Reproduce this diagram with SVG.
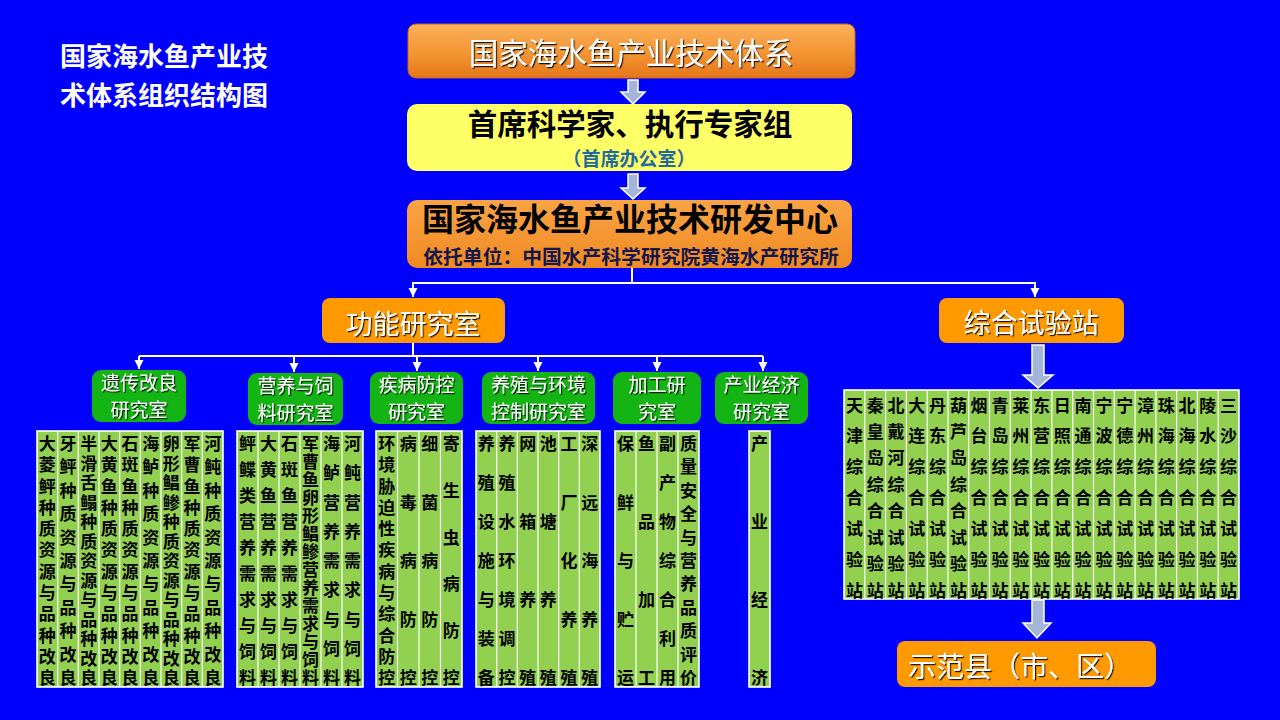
<svg xmlns="http://www.w3.org/2000/svg" width="1280" height="720" viewBox="0 0 1280 720">
<defs>
<style>
.cjk{font-family:"Noto Sans CJK SC","Noto Sans CJK TC",sans-serif}
.tt{font-family:"Noto Sans CJK SC",sans-serif;font-weight:bold;fill:#fff;font-size:26px}
.wt{font-family:"Noto Sans CJK SC",sans-serif;fill:#fff;text-anchor:middle}
.gl{font-family:"Noto Sans CJK SC",sans-serif;fill:#fff;text-anchor:middle;font-size:19px}
.gb{fill:#14B414}
.ob{fill:#FF9900}
.tbl{fill:#92D050;stroke:#fff;stroke-width:1.6}
.sep{stroke:#fff;stroke-width:1.2}
.col{font-family:"Noto Sans CJK SC",sans-serif;font-weight:bold;font-size:17px;fill:#000;text-anchor:middle}
.conn{fill:none;stroke:#fff;stroke-width:2}
.blk{fill:#A3B6DA;stroke:#fff;stroke-width:1.5}
</style>
<linearGradient id="og1" x1="0" y1="0" x2="0" y2="1">
<stop offset="0" stop-color="#FBB25C"/><stop offset="0.55" stop-color="#F39433"/><stop offset="1" stop-color="#E4761A"/>
</linearGradient>
<linearGradient id="og2" x1="0" y1="0" x2="0" y2="1">
<stop offset="0" stop-color="#F9A445"/><stop offset="1" stop-color="#F08A22"/>
</linearGradient>
<filter id="sh" x="-10%" y="-10%" width="120%" height="130%">
<feDropShadow dx="1.2" dy="1.2" stdDeviation="0.4" flood-color="#000" flood-opacity="0.85"/>
</filter>
<marker id="ah" markerUnits="userSpaceOnUse" markerWidth="10" markerHeight="10" refX="9" refY="4.5" orient="auto">
<path d="M0,0 L9,4.5 L0,9 z" fill="#fff"/>
</marker>
</defs>
<rect x="0" y="0" width="1280" height="720" fill="#0000FF"/>

<g id="title">
<text class="tt" x="60" y="66">国家海水鱼产业技</text>
<text class="tt" x="60" y="105">术体系组织结构图</text>
</g>

<g id="connectors">
<polygon class="blk" points="628,80 638,80 638,92 645,92 633,104 621,92 628,92"/>
<polygon class="blk" points="628,174 638,174 638,188 645,188 633,199 621,188 628,188"/>
<path class="conn" d="M632,268 V283 H413 V297" marker-end="url(#ah)"/>
<path class="conn" d="M632,283 H1035 V297" marker-end="url(#ah)"/>
<path class="conn" d="M413,343 V356 M139,356 H763"/>
<path class="conn" d="M139,356 V369" marker-end="url(#ah)"/>
<path class="conn" d="M294,356 V372" marker-end="url(#ah)"/>
<path class="conn" d="M417,356 V371" marker-end="url(#ah)"/>
<path class="conn" d="M538,356 V371" marker-end="url(#ah)"/>
<path class="conn" d="M657,356 V371" marker-end="url(#ah)"/>
<path class="conn" d="M763,356 V371" marker-end="url(#ah)"/>
<polygon class="blk" points="1032,345 1044,345 1044,375 1053,375 1038,388 1023,375 1032,375"/>
<polygon class="blk" points="1032,600 1044,600 1044,623 1051,623 1037,638 1023,623 1032,623"/>
</g>

<g id="system">
<rect x="408" y="24" width="447" height="54" rx="8" fill="url(#og1)" stroke="#C9651A" stroke-width="1"/>
<text class="wt" x="631" y="64" font-size="29.5" filter="url(#sh)">国家海水鱼产业技术体系</text>
</g>

<g id="chief">
<rect x="407" y="104" width="445" height="67" rx="10" fill="#FFFF66"/>
<text class="cjk" x="630" y="135" font-size="29.5" font-weight="bold" text-anchor="middle" fill="#000">首席科学家、执行专家组</text>
<text class="cjk" x="629" y="166" font-size="19" font-weight="bold" text-anchor="middle" fill="#1F6A9E">（首席办公室）</text>
</g>

<g id="center">
<rect x="407" y="200" width="445" height="68" rx="10" fill="url(#og2)"/>
<text class="cjk" x="630" y="231" font-size="32" font-weight="bold" text-anchor="middle" fill="#000">国家海水鱼产业技术研发中心</text>
<text class="cjk" x="631" y="263.5" font-size="19.8" font-weight="bold" text-anchor="middle" fill="#16164A">依托单位：中国水产科学研究院黄海水产研究所</text>
</g>

<g id="func-labs">
<rect class="ob" x="322" y="298" width="183" height="45" rx="8"/>
<text class="wt" x="413" y="334" font-size="27" filter="url(#sh)">功能研究室</text>
</g>

<g id="stations">
<rect class="ob" x="939" y="298" width="185" height="45" rx="8"/>
<text class="wt" x="1031" y="333" font-size="27" filter="url(#sh)">综合试验站</text>
</g>

<g id="demo-counties">
<rect class="ob" x="897" y="641" width="259" height="46" rx="8"/>
<text class="cjk" x="908" y="677" font-size="28" fill="#fff" filter="url(#sh)">示范县（市、区）</text>
</g>

<g id="lab-genetics">
<rect class="gb" x="92" y="370" width="94" height="52" rx="9"/>
<text class="gl" x="139" y="389.5" filter="url(#sh)">遗传改良</text>
<text class="gl" x="139" y="417" filter="url(#sh)">研究室</text>
</g>
<g id="lab-nutrition">
<rect class="gb" x="248" y="373" width="95" height="52" rx="9"/>
<text class="gl" x="295.5" y="392.5" filter="url(#sh)">营养与饲</text>
<text class="gl" x="295.5" y="420" filter="url(#sh)">料研究室</text>
</g>
<g id="lab-disease">
<rect class="gb" x="370" y="372" width="93" height="52" rx="9"/>
<text class="gl" x="416.5" y="391.5" filter="url(#sh)">疾病防控</text>
<text class="gl" x="416.5" y="419" filter="url(#sh)">研究室</text>
</g>
<g id="lab-culture">
<rect class="gb" x="482" y="372" width="113" height="52" rx="9"/>
<text class="gl" x="538.5" y="391.5" filter="url(#sh)">养殖与环境</text>
<text class="gl" x="538.5" y="419" filter="url(#sh)">控制研究室</text>
</g>
<g id="lab-processing">
<rect class="gb" x="613" y="372" width="88" height="52" rx="9"/>
<text class="gl" x="657" y="391.5" filter="url(#sh)">加工研</text>
<text class="gl" x="657" y="419" filter="url(#sh)">究室</text>
</g>
<g id="lab-economy">
<rect class="gb" x="715" y="372" width="93" height="52" rx="9"/>
<text class="gl" x="761.5" y="391.5" filter="url(#sh)">产业经济</text>
<text class="gl" x="761.5" y="419" filter="url(#sh)">研究室</text>
</g>

<g id="table-genetics">
<rect class="tbl" x="37" y="431" width="186" height="256"/>
<path class="sep" d="M57.7,431V687M78.3,431V687M99,431V687M119.7,431V687M140.3,431V687M161,431V687M181.7,431V687M202.3,431V687"/>
<text class="col" x="47.3 47.3 47.3 47.3 47.3 47.3 47.3 47.3 47.3 47.3 47.3 47.3 47.3 47.3" y="450 471.3 492.5 513.8 535.1 556.4 577.6 598.9 620.2 641.5 662.7 684">大菱鲆种质资源与品种改良</text>
<text class="col" x="68 68 68 68 68 68 68 68 68 68 68 68 68 68" y="450 473.4 496.8 520.2 543.6 567 590.4 613.8 637.2 660.6 684">牙鲆种质资源与品种改良</text>
<text class="col" x="88.7 88.7 88.7 88.7 88.7 88.7 88.7 88.7 88.7 88.7 88.7 88.7 88.7 88.7" y="450 469.5 489 508.5 528 547.5 567 586.5 606 625.5 645 664.5 684">半滑舌鳎种质资源与品种改良</text>
<text class="col" x="109.3 109.3 109.3 109.3 109.3 109.3 109.3 109.3 109.3 109.3 109.3 109.3 109.3 109.3" y="450 471.3 492.5 513.8 535.1 556.4 577.6 598.9 620.2 641.5 662.7 684">大黄鱼种质资源与品种改良</text>
<text class="col" x="130 130 130 130 130 130 130 130 130 130 130 130 130 130" y="450 471.3 492.5 513.8 535.1 556.4 577.6 598.9 620.2 641.5 662.7 684">石斑鱼种质资源与品种改良</text>
<text class="col" x="150.7 150.7 150.7 150.7 150.7 150.7 150.7 150.7 150.7 150.7 150.7 150.7 150.7 150.7" y="450 473.4 496.8 520.2 543.6 567 590.4 613.8 637.2 660.6 684">海鲈种质资源与品种改良</text>
<text class="col" x="171.3 171.3 171.3 171.3 171.3 171.3 171.3 171.3 171.3 171.3 171.3 171.3 171.3 171.3" y="450 469.5 489 508.5 528 547.5 567 586.5 606 625.5 645 664.5 684">卵形鲳鲹种质资源与品种改良</text>
<text class="col" x="192 192 192 192 192 192 192 192 192 192 192 192 192 192" y="450 471.3 492.5 513.8 535.1 556.4 577.6 598.9 620.2 641.5 662.7 684">军曹鱼种质资源与品种改良</text>
<text class="col" x="212.7 212.7 212.7 212.7 212.7 212.7 212.7 212.7 212.7 212.7 212.7 212.7 212.7 212.7" y="450 473.4 496.8 520.2 543.6 567 590.4 613.8 637.2 660.6 684">河鲀种质资源与品种改良</text>
</g>

<g id="table-nutrition">
<rect class="tbl" x="237" y="431" width="126" height="256"/>
<path class="sep" d="M258,431V687M279,431V687M300,431V687M321,431V687M342,431V687"/>
<text class="col" x="247.5 247.5 247.5 247.5 247.5 247.5 247.5 247.5 247.5 247.5 247.5 247.5 247.5 247.5" y="450 476 502 528 554 580 606 632 658 684">鲆鲽类营养需求与饲料</text>
<text class="col" x="268.5 268.5 268.5 268.5 268.5 268.5 268.5 268.5 268.5 268.5 268.5 268.5 268.5 268.5" y="450 476 502 528 554 580 606 632 658 684">大黄鱼营养需求与饲料</text>
<text class="col" x="289.5 289.5 289.5 289.5 289.5 289.5 289.5 289.5 289.5 289.5 289.5 289.5 289.5 289.5" y="450 476 502 528 554 580 606 632 658 684">石斑鱼营养需求与饲料</text>
<text class="col" x="310.5 310.5 310.5 310.5 310.5 310.5 310.5 310.5 310.5 310.5 310.5 310.5 310.5 310.5" y="450 468 486 504 522 540 558 576 594 612 630 648 666 684">军曹鱼卵形鲳鲹营养需求与饲料</text>
<text class="col" x="331.5 331.5 331.5 331.5 331.5 331.5 331.5 331.5 331.5 331.5 331.5 331.5 331.5 331.5" y="450 479.3 508.5 537.8 567 596.3 625.5 654.8 684">海鲈营养需求与饲料</text>
<text class="col" x="352.5 352.5 352.5 352.5 352.5 352.5 352.5 352.5 352.5 352.5 352.5 352.5 352.5 352.5" y="450 479.3 508.5 537.8 567 596.3 625.5 654.8 684">河鲀营养需求与饲料</text>
</g>

<g id="table-disease">
<rect class="tbl" x="376" y="431" width="86" height="256"/>
<path class="sep" d="M397.5,431V687M419,431V687M440.5,431V687"/>
<text class="col" x="386.8 386.8 386.8 386.8 386.8 386.8 386.8 386.8 386.8 386.8 386.8 386.8 386.8 386.8" y="450 471.3 492.5 513.8 535.1 556.4 577.6 598.9 620.2 641.5 662.7 684">环境胁迫性疾病与综合防控</text>
<text class="col" x="408.3 408.3 408.3 408.3 408.3 408.3 408.3 408.3 408.3 408.3 408.3 408.3 408.3 408.3" y="450 508.5 567 625.5 684">病毒病防控</text>
<text class="col" x="429.8 429.8 429.8 429.8 429.8 429.8 429.8 429.8 429.8 429.8 429.8 429.8 429.8 429.8" y="450 508.5 567 625.5 684">细菌病防控</text>
<text class="col" x="451.3 451.3 451.3 451.3 451.3 451.3 451.3 451.3 451.3 451.3 451.3 451.3 451.3 451.3" y="450 496.8 543.6 590.4 637.2 684">寄生虫病防控</text>
</g>

<g id="table-culture">
<rect class="tbl" x="476" y="431" width="124" height="256"/>
<path class="sep" d="M496.7,431V687M517.3,431V687M538,431V687M558.7,431V687M579.3,431V687"/>
<text class="col" x="486.3 486.3 486.3 486.3 486.3 486.3 486.3 486.3" y="450 489 528 567 606 645 684">养殖设施与装备</text>
<text class="col" x="507 507 507 507 507 507 507 507" y="450 489 528 567 606 645 684">养殖水环境调控</text>
<text class="col" x="527.7 527.7 527.7 527.7 527.7 527.7" y="450 528 606 684">网箱养殖</text>
<text class="col" x="548.3 548.3 548.3 548.3 548.3 548.3" y="450 528 606 684">池塘养殖</text>
<text class="col" x="569 569 569 569 569 569" y="450 508.5 567 625.5 684">工厂化养殖</text>
<text class="col" x="589.7 589.7 589.7 589.7 589.7 589.7" y="450 508.5 567 625.5 684">深远海养殖</text>
</g>

<g id="table-processing">
<rect class="tbl" x="615" y="431" width="84" height="256"/>
<path class="sep" d="M636,431V687M657,431V687M678,431V687"/>
<text class="col" x="625.5 625.5 625.5 625.5 625.5 625.5" y="450 508.5 567 625.5 684">保鲜与贮运</text>
<text class="col" x="646.5 646.5 646.5 646.5 646.5 646.5" y="450 528 606 684">鱼品加工</text>
<text class="col" x="667.5 667.5 667.5 667.5 667.5 667.5 667.5 667.5" y="450 489 528 567 606 645 684">副产物综合利用</text>
<text class="col" x="688.5 688.5 688.5 688.5 688.5 688.5 688.5 688.5 688.5 688.5 688.5 688.5" y="450 473.4 496.8 520.2 543.6 567 590.4 613.8 637.2 660.6 684">质量安全与营养品质评价</text>
</g>

<g id="table-economy">
<rect class="tbl" x="749" y="431" width="21" height="256"/>
<text class="col" x="759.5 759.5 759.5 759.5 759.5" y="450 528 606 684">产业经济</text>
</g>

<g id="table-stations">
<rect class="tbl" x="844" y="390" width="395" height="209"/>
<path class="sep" d="M864.8,390V599M885.6,390V599M906.4,390V599M927.2,390V599M948,390V599M968.7,390V599M989.5,390V599M1010.3,390V599M1031.1,390V599M1051.9,390V599M1072.7,390V599M1093.5,390V599M1114.3,390V599M1135.1,390V599M1155.9,390V599M1176.6,390V599M1197.4,390V599M1218.2,390V599"/>
<text class="col" x="854.4 854.4 854.4 854.4 854.4 854.4 854.4 854.4" y="411.5 442.3 473.2 504 534.8 565.7 596.5">天津综合试验站</text>
<text class="col" x="875.2 875.2 875.2 875.2 875.2 875.2 875.2 875.2" y="411.5 437.9 464.4 490.8 517.2 543.6 570.1 596.5">秦皇岛综合试验站</text>
<text class="col" x="896 896 896 896 896 896 896 896" y="411.5 437.9 464.4 490.8 517.2 543.6 570.1 596.5">北戴河综合试验站</text>
<text class="col" x="916.8 916.8 916.8 916.8 916.8 916.8 916.8 916.8" y="411.5 442.3 473.2 504 534.8 565.7 596.5">大连综合试验站</text>
<text class="col" x="937.6 937.6 937.6 937.6 937.6 937.6 937.6 937.6" y="411.5 442.3 473.2 504 534.8 565.7 596.5">丹东综合试验站</text>
<text class="col" x="958.4 958.4 958.4 958.4 958.4 958.4 958.4 958.4" y="411.5 437.9 464.4 490.8 517.2 543.6 570.1 596.5">葫芦岛综合试验站</text>
<text class="col" x="979.1 979.1 979.1 979.1 979.1 979.1 979.1 979.1" y="411.5 442.3 473.2 504 534.8 565.7 596.5">烟台综合试验站</text>
<text class="col" x="999.9 999.9 999.9 999.9 999.9 999.9 999.9 999.9" y="411.5 442.3 473.2 504 534.8 565.7 596.5">青岛综合试验站</text>
<text class="col" x="1020.7 1020.7 1020.7 1020.7 1020.7 1020.7 1020.7 1020.7" y="411.5 442.3 473.2 504 534.8 565.7 596.5">莱州综合试验站</text>
<text class="col" x="1041.5 1041.5 1041.5 1041.5 1041.5 1041.5 1041.5 1041.5" y="411.5 442.3 473.2 504 534.8 565.7 596.5">东营综合试验站</text>
<text class="col" x="1062.3 1062.3 1062.3 1062.3 1062.3 1062.3 1062.3 1062.3" y="411.5 442.3 473.2 504 534.8 565.7 596.5">日照综合试验站</text>
<text class="col" x="1083.1 1083.1 1083.1 1083.1 1083.1 1083.1 1083.1 1083.1" y="411.5 442.3 473.2 504 534.8 565.7 596.5">南通综合试验站</text>
<text class="col" x="1103.9 1103.9 1103.9 1103.9 1103.9 1103.9 1103.9 1103.9" y="411.5 442.3 473.2 504 534.8 565.7 596.5">宁波综合试验站</text>
<text class="col" x="1124.7 1124.7 1124.7 1124.7 1124.7 1124.7 1124.7 1124.7" y="411.5 442.3 473.2 504 534.8 565.7 596.5">宁德综合试验站</text>
<text class="col" x="1145.5 1145.5 1145.5 1145.5 1145.5 1145.5 1145.5 1145.5" y="411.5 442.3 473.2 504 534.8 565.7 596.5">漳州综合试验站</text>
<text class="col" x="1166.3 1166.3 1166.3 1166.3 1166.3 1166.3 1166.3 1166.3" y="411.5 442.3 473.2 504 534.8 565.7 596.5">珠海综合试验站</text>
<text class="col" x="1187 1187 1187 1187 1187 1187 1187 1187" y="411.5 442.3 473.2 504 534.8 565.7 596.5">北海综合试验站</text>
<text class="col" x="1207.8 1207.8 1207.8 1207.8 1207.8 1207.8 1207.8 1207.8" y="411.5 442.3 473.2 504 534.8 565.7 596.5">陵水综合试验站</text>
<text class="col" x="1228.6 1228.6 1228.6 1228.6 1228.6 1228.6 1228.6 1228.6" y="411.5 442.3 473.2 504 534.8 565.7 596.5">三沙综合试验站</text>
</g>
</svg>
